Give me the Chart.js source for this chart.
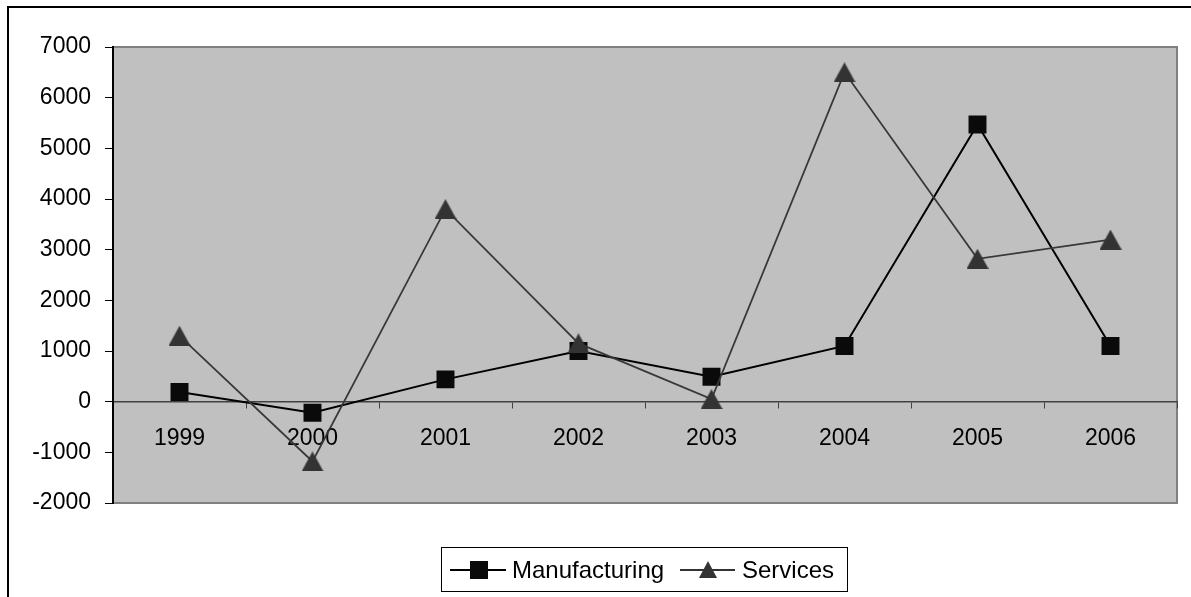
<!DOCTYPE html>
<html>
<head>
<meta charset="utf-8">
<script src="https://cdn.jsdelivr.net/npm/chart.js@4/dist/chart.umd.min.js"></script>
<style>
  html, body { margin: 0; padding: 0; background: #fff; }
  #wrap { width: 1191px; height: 597px; position: relative; }
</style>
</head>
<body>
<div id="wrap"><canvas id="lineChart" width="1191" height="597"></canvas></div>
<script>
const years = ['1999', '2000', '2001', '2002', '2003', '2004', '2005', '2006'];
const manufacturing = [190, -220, 440, 1000, 490, 1100, 5470, 1100];
const services = [1300, -1180, 3800, 1150, 50, 6500, 2820, 3200];
const yMin = -2000;
const yMax = 7000;
const yStep = 1000;

const FONT = "'Liberation Sans', Arial, sans-serif";

// triangle marker centred on its box, like excel draws it
function makeTriangle(w, h, color) {
    const c = document.createElement('canvas');
    c.width = w;
    c.height = h;
    const g = c.getContext('2d');
    g.fillStyle = color;
    g.beginPath();
    g.moveTo(w / 2, 0);
    g.lineTo(w, h);
    g.lineTo(0, h);
    g.closePath();
    g.fill();
    return c;
}
const triMarker = makeTriangle(22, 20, '#333');

// grey plot area + outer frame
const plotBg = {
    id: 'plotBg',
    beforeDraw(chart) {
        const { ctx, chartArea: a } = chart;
        ctx.save();
        ctx.fillStyle = '#fff';
        ctx.fillRect(0, 0, chart.width, chart.height);
        ctx.fillStyle = '#c0c0c0';
        ctx.fillRect(a.left, a.top, a.right - a.left, a.bottom - a.top);
        ctx.strokeStyle = '#808080';
        ctx.lineWidth = 2;
        ctx.strokeRect(a.left, a.top, a.right - a.left, a.bottom - a.top);
        ctx.strokeStyle = '#000';
        ctx.lineWidth = 2;
        ctx.strokeRect(8, 7, 1300, 700);
        ctx.restore();
    }
};

// excel style legend: line through marker
const lineLegend = {
    id: 'lineLegend',
    afterDraw(chart) {
        const ctx = chart.ctx;
        const y = 570;
        ctx.save();
        ctx.fillStyle = '#fff';
        ctx.fillRect(441.5, 547.5, 406, 44);
        ctx.strokeStyle = '#000';
        ctx.lineWidth = 1;
        ctx.strokeRect(441.5, 547.5, 406, 44);

        ctx.lineWidth = 2;
        ctx.strokeStyle = '#000';
        ctx.beginPath();
        ctx.moveTo(450, y); ctx.lineTo(506, y);
        ctx.stroke();
        ctx.fillStyle = '#0a0a0a';
        ctx.fillRect(470, y - 9, 18, 18);

        ctx.strokeStyle = '#333';
        ctx.beginPath();
        ctx.moveTo(680, y); ctx.lineTo(735, y);
        ctx.stroke();
        ctx.fillStyle = '#333';
        ctx.beginPath();
        ctx.moveTo(708, y - 9);
        ctx.lineTo(717, y + 8);
        ctx.lineTo(699, y + 8);
        ctx.closePath();
        ctx.fill();

        ctx.fillStyle = '#000';
        ctx.font = '24px ' + FONT;
        ctx.textBaseline = 'middle';
        ctx.textAlign = 'left';
        ctx.fillText('Manufacturing', 512, y + 1);
        ctx.fillText('Services', 742, y + 1);
        ctx.restore();
    }
};

document.addEventListener('DOMContentLoaded', () => {
    const ctx = document.getElementById('lineChart');
    new Chart(ctx, {
        type: 'line',
        data: {
            labels: years,
            datasets: [{
                label: 'Manufacturing',
                data: manufacturing,
                order: 1,
                borderColor: '#000',
                borderWidth: 2,
                backgroundColor: '#0a0a0a',
                pointStyle: 'rect',
                pointRadius: 12.7,
                pointBorderWidth: 0,
                pointBackgroundColor: '#0a0a0a',
                tension: 0
            }, {
                label: 'Services',
                data: services,
                order: 0,
                borderColor: '#383838',
                borderWidth: 1.75,
                backgroundColor: '#333',
                pointStyle: triMarker,
                pointRadius: 11,
                pointBorderWidth: 0,
                pointBackgroundColor: '#333',
                tension: 0
            }]
        },
        options: {
            responsive: false,
            animation: false,
            events: [],
            layout: { padding: { top: 47, right: 14, bottom: 94, left: 0 } },
            plugins: {
                legend: { display: false },
                tooltip: { enabled: false }
            },
            scales: {
                x: {
                    type: 'category',
                    position: { y: 0 },
                    offset: true,
                    grid: {
                        offset: true,
                        drawOnChartArea: false,
                        drawTicks: true,
                        tickLength: 6,
                        color: '#404040',
                        lineWidth: 1
                    },
                    border: { display: true, color: '#404040', width: 1.5 },
                    ticks: {
                        color: '#000',
                        font: { size: 23, family: FONT },
                        padding: 17,
                        maxRotation: 0,
                        autoSkip: false
                    }
                },
                y: {
                    min: yMin,
                    max: yMax,
                    afterFit(scale) { scale.width = 113; },
                    grid: {
                        drawOnChartArea: false,
                        drawTicks: true,
                        tickLength: 8,
                        color: '#000',
                        lineWidth: 1
                    },
                    border: { display: true, color: '#000', width: 2 },
                    ticks: {
                        stepSize: yStep,
                        color: '#000',
                        font: { size: 23, family: FONT },
                        padding: 14,
                        callback: (value) => String(value)
                    }
                }
            }
        },
        plugins: [plotBg, lineLegend]
    });
});
</script>
</body>
</html>
